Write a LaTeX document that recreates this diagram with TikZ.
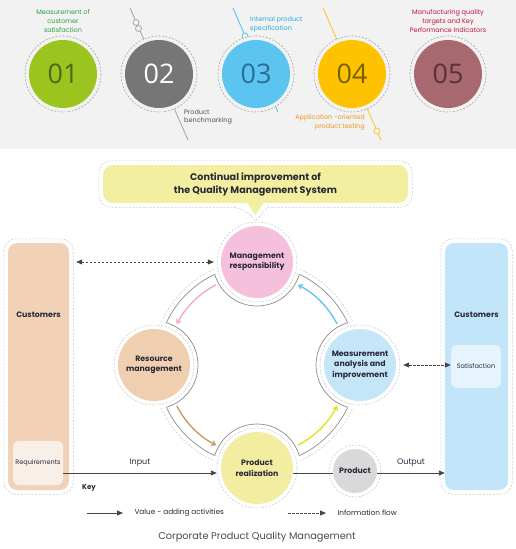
\documentclass[tikz,border=0pt]{standalone}
\usepackage{fontspec}
\setmainfont{Poppins}
\newfontfamily\numfont{Open Sans}
\usepackage{xcolor}
\usetikzlibrary{arrows.meta,positioning,calc,backgrounds}
\definecolor{bandgray}{RGB}{242,242,242}
\definecolor{c01}{RGB}{156,196,31}
\definecolor{n01}{RGB}{76,106,20}
\definecolor{c02}{RGB}{118,118,118}
\definecolor{c03}{RGB}{91,196,241}
\definecolor{n03}{RGB}{44,110,145}
\definecolor{c04}{RGB}{254,194,0}
\definecolor{n04}{RGB}{120,95,0}
\definecolor{c05}{RGB}{167,104,112}
\definecolor{n05}{RGB}{90,50,56}
\definecolor{t01}{RGB}{40,160,60}
\definecolor{t02}{RGB}{80,80,80}
\definecolor{t03}{RGB}{40,170,225}
\definecolor{t04}{RGB}{240,150,30}
\definecolor{t05}{RGB}{190,20,60}
\definecolor{deco02}{RGB}{170,170,170}
\definecolor{deco04}{RGB}{250,200,50}
\definecolor{pinkfill}{RGB}{245,192,220}
\definecolor{peachfill}{RGB}{240,207,176}
\definecolor{bluefill}{RGB}{197,230,248}
\definecolor{yellowfill}{RGB}{242,237,160}
\definecolor{bubblefill}{RGB}{243,239,160}
\definecolor{custLfill}{RGB}{242,210,183}
\definecolor{reqfill}{RGB}{248,240,232}
\definecolor{custRfill}{RGB}{194,229,250}
\definecolor{satfill}{RGB}{230,244,253}
\definecolor{prodfill}{RGB}{217,217,217}
\definecolor{pinkarrow}{RGB}{244,166,200}
\definecolor{bluearrow}{RGB}{90,196,240}
\definecolor{brownarrow}{RGB}{200,150,90}
\definecolor{limearrow}{RGB}{225,225,20}
\definecolor{ringgray}{RGB}{140,140,140}
\definecolor{halogray}{RGB}{205,205,205}
\definecolor{ink}{RGB}{40,40,55}
\definecolor{linegray}{RGB}{70,70,70}

\begin{document}
\begin{tikzpicture}[x=1pt, y=-1pt,
    tag/.style={font=\fontsize{6.5}{8.8}\selectfont, align=center, inner sep=0pt},
    topcirc/.style={circle, fill=#1, minimum size=68pt, inner sep=0pt, font=\numfont\fontsize{27}{27}\selectfont},
    tophalo/.style={draw=gray!70, dash pattern=on 2pt off 1.5pt, line width=0.6pt},
    deco/.style={line width=0.9pt},
    stage/.style={circle, fill=#1, minimum size=72pt, inner sep=0pt, align=center, text=ink, font=\bfseries\fontsize{7.8}{10.5}\selectfont},
    halo/.style={draw=halogray, dash pattern=on 2pt off 1.5pt, line width=0.6pt},
    ringline/.style={draw=ringgray, line width=0.7pt},
    custbox/.style={rectangle, fill=#1, rounded corners=9pt, inner sep=0pt},
    subbox/.style={rectangle, fill=#1, rounded corners=6pt, inner sep=0pt, text=ink, font=\fontsize{6.5}{8}\selectfont},
    boxtitle/.style={text=ink, font=\bfseries\fontsize{7.8}{9}\selectfont},
    flow/.style={line width=1.3pt, -{Straight Barb[length=3.5pt,width=5pt]}},
    arrow/.style={draw=linegray, line width=0.9pt, -{Triangle[length=6pt,width=5pt]}},
    darrow/.style={draw=linegray, line width=0.8pt, dash pattern=on 2.5pt off 1.5pt, {Triangle[length=6pt,width=5pt]}-{Triangle[length=6pt,width=5pt]}},
    keytext/.style={text=ink, font=\fontsize{7.3}{8}\selectfont}
]
\useasboundingbox (0,0) rectangle (516,549);

% Top band: five steps
\fill[bandgray] (0,0) rectangle (516,149);
\draw[deco, deco02] (130,8) -- (188,140);
\draw[deco, c03] (233,8) -- (278,112);
\draw[deco, deco04] (323,8) -- (381,140);
\filldraw[deco02, fill=bandgray, line width=0.8pt] (136,22.5) circle (3) (138.5,28.5) circle (3);
\filldraw[c03, fill=bandgray, line width=0.8pt] (245,36) circle (3);
\filldraw[deco04, fill=bandgray, line width=0.8pt] (377,131) circle (3);

\foreach \i/\x/\fc/\nc in {01/63/c01/n01, 02/159/c02/white, 03/256/c03/n03, 04/352/c04/n04, 05/448/c05/n05} {
  \draw[tophalo, fill=bandgray] (\x,74) circle (38);
  \node[topcirc=\fc, text=\nc] (num\i) at (\x,74) {\i};
}

\node[tag, text=t01] (lab01) at (63,21) {Measurement of\\customer\\satisfaction};
\node[tag, text=t02, align=left, anchor=west] (lab02) at (184,117) {Product\\benchmarking};
\node[tag, text=t03, align=left, anchor=west] (lab03) at (250,24.5) {Internal product\\specification};
\node[tag, text=t04, align=right, anchor=east] (lab04) at (365,122.5) {Application -oriented\\product testing};
\node[tag, text=t05] (lab05) at (448,21) {Manufacturing quality\\targets and Key\\Performance Indicators};

% Callout
\node[rectangle, fill=bubblefill, rounded corners=10pt, minimum width=305pt, minimum height=38pt, align=center, text=ink,
      font=\bfseries\fontsize{9.6}{13}\selectfont] (bubble) at (255.5,184) {Continual improvement of\\the Quality Management System};
\coordinate (tip) at (255.5,215);
\fill[bubblefill] ([xshift=-8pt]bubble.south) -- (tip) -- ([xshift=8pt]bubble.south) -- cycle;
\draw[halo] ([shift={(-12pt,-4pt)}]bubble.south) -- ([yshift=-6pt]tip) -- ([shift={(12pt,-4pt)}]bubble.south)
  [rounded corners=12pt] -- ([shift={(4pt,-4pt)}]bubble.south east) -- ([shift={(4pt,4pt)}]bubble.north east)
  -- ([shift={(-4pt,4pt)}]bubble.north west) -- ([shift={(-4pt,-4pt)}]bubble.south west) -- cycle;

% Process cycle
\coordinate (ring) at (257,365);
\node[stage=pinkfill] (mgmt) at ([yshift=103pt]ring) {Management\\responsibility};
\node[stage=peachfill] (res) at ([xshift=-103pt]ring) {Resource\\management};
\node[stage=bluefill] (meas) at ([xshift=103pt]ring) {Measurement\\analysis and\\improvement};
\node[stage=yellowfill] (real) at ([yshift=-103pt]ring) {Product\\realization};
\node[stage=prodfill, minimum size=44pt] (prod) at (355,471) {Product};

\begin{scope}[on background layer]
  \draw[halo] (ring) circle (105);
  \draw[ringline] (ring) circle (100);
  \foreach \n in {mgmt,res,meas,real} \fill[white] (\n) circle (44);
  \begin{scope}
    \clip (ring) circle (100);
    \foreach \n in {mgmt,res,meas,real} \draw[ringline] (\n) circle (44);
  \end{scope}
  \foreach \n in {mgmt,res,meas,real} \draw[halo] (\n) circle (40);
  \draw[halo] (prod) circle (26);
\end{scope}

\draw[flow, pinkarrow] ([shift={(-117:90)}]ring) arc[start angle=-117, end angle=-153, radius=90];
\draw[flow, brownarrow] ([shift={(-207:90)}]ring) arc[start angle=-207, end angle=-243, radius=90];
\draw[flow, limearrow] ([shift={(63:90)}]ring) arc[start angle=63, end angle=27, radius=90];
\draw[flow, bluearrow] ([shift={(-27:90)}]ring) arc[start angle=-27, end angle=-63, radius=90];

% Customers
\node[custbox=custLfill, minimum width=61pt, minimum height=247pt] (custL) at (38.5,366.5) {};
\draw[halo, rounded corners=12pt] ([shift={(-4pt,4pt)}]custL.north west) rectangle ([shift={(4pt,-4pt)}]custL.south east);
\node[boxtitle] (custLt) at ([yshift=-72pt]custL.north) {Customers};
\node[subbox=reqfill, minimum width=50pt, minimum height=44pt] (req) at (38,463) {Requirements};

\node[custbox=custRfill, minimum width=63pt, minimum height=247pt] (custR) at (476.5,366.5) {};
\draw[halo, rounded corners=12pt] ([shift={(-4pt,4pt)}]custR.north west) rectangle ([shift={(4pt,-4pt)}]custR.south east);
\node[boxtitle] (custRt) at ([yshift=-72pt]custR.north) {Customers};
\node[subbox=satfill, minimum width=50pt, minimum height=43pt] (sat) at (476,366.5) {Satisfaction};

% Flows
\coordinate (inY) at (0,473);
\draw[arrow] (req.east |- inY) -- node[above=3pt, keytext, font=\fontsize{8}{9}\selectfont] (inlab) {Input} ([xshift=-4pt]real.west |- inY);
\draw[draw=linegray, line width=0.9pt] (real.east |- inY) -- (prod.west |- inY);
\draw[arrow] (prod.east |- inY) -- node[above=3pt, keytext, font=\fontsize{8}{9}\selectfont] (outlab) {Output} (custR.west |- inY);
\draw[darrow] ([xshift=-7pt]mgmt.west) -- ([xshift=7pt]custL.east |- mgmt.west);
\draw[darrow] ([xshift=7pt]meas.east) -- (sat.west |- meas.east);

% Key
\node[boxtitle, font=\bfseries\fontsize{7}{8}\selectfont] (key) at (89,488) {Key};
\coordinate (vs) at (87,513);
\coordinate (ve) at (123,513);
\draw[arrow] (vs) -- (ve);
\node[keytext, right=8pt of ve] (vtext) {Value - adding activities};
\coordinate (is) at (288,513);
\coordinate (ie) at (326,513);
\draw[arrow, dash pattern=on 2.5pt off 1.5pt] (is) -- (ie);
\node[keytext, right=8pt of ie] (itext) {Information flow};

\node[text=ink!85, font=\fontsize{9.8}{11}\selectfont] (caption) at (257,537) {Corporate Product Quality Management};
\end{tikzpicture}
\end{document}
